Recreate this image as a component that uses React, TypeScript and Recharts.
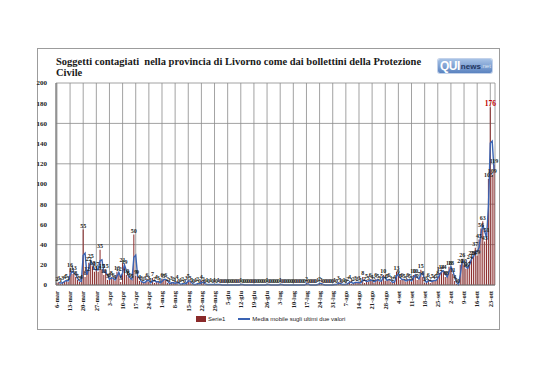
import { ComposedChart, Bar, Line, XAxis, YAxis, CartesianGrid, LabelList } from 'recharts';

// Soggetti contagiati, provincia di Livorno (bollettini Protezione Civile)

const SERIF = '"Liberation Serif", "Times New Roman", serif';
const SANS = '"Liberation Sans", Arial, sans-serif';

const TITLE_1 = 'Soggetti contagiati  nella provincia di Livorno come dai bollettini della Protezione';
const TITLE_2 = 'Civile';

// etichette settimanali dell'asse (un giorno ogni 7)
const WEEK_LABELS = [
  '6-mar', '13-mar', '20-mar', '27-mar', '3-apr', '10-apr', '17-apr', '24-apr',
  '1-mag', '8-mag', '15-mag', '22-mag', '29-mag', '5-giu', '12-giu', '19-giu',
  '26-giu', '3-lug', '10-lug', '17-lug', '24-lug', '31-lug', '7-ago', '14-ago',
  '21-ago', '28-ago', '4-set', '11-set', '18-set', '25-set', '2-ott', '9-ott',
  '16-ott', '23-ott',
];

// nuovi casi giornalieri, una riga per settimana (parte dalla data in WEEK_LABELS)
const CASES_BY_WEEK = [
  [2, 3, 1, 3, 4, 5, 3],
  [16, 11, 13, 8, 5, 3, 4],
  [55, 8, 12, 22, 25, 18, 13],
  [17, 13, 35, 15, 10, 15, 5],
  [6, 8, 6, 4, 13, 12, 3],
  [21, 19, 10, 8, 6, 5, 50],
  [9, 9, 4, 3, 2, 3, 6],
  [3, 1, 7, 2, 4, 3, 1],
  [6, 5, 6, 2, 1, 3, 2],
  [1, 4, 0, 1, 2, 0, 3],
  [5, 3, 1, 0, 1, 2, 0],
  [4, 2, 0, 1, 0, 1, 0],
  [1, 0, 1, 0, 0, 0, 0],
  [0, 0, 0, 0, 0, 0, 0],
  [1, 0, 0, 0, 0, 0, 0],
  [0, 0, 0, 0, 0, 0, 0],
  [1, 0, 0, 0, 0, 0, 0],
  [1, 0, 0, 0, 0, 0, 0],
  [0, 0, 0, 0, 0, 0, 0],
  [2, 0, 0, 0, 0, 0, 1],
  [2, 1, 0, 0, 0, 0, 0],
  [0, 1, 0, 3, 1, 0, 1],
  [0, 2, 4, 1, 2, 3, 2],
  [3, 1, 8, 2, 5, 3, 6],
  [4, 2, 6, 5, 3, 5, 10],
  [4, 5, 6, 3, 2, 4, 13],
  [9, 5, 6, 5, 3, 6, 5],
  [3, 10, 10, 5, 7, 15, 8],
  [2, 3, 6, 2, 5, 4, 5],
  [8, 12, 14, 14, 8, 8, 18],
  [18, 11, 4, 1, 0, 20, 26],
  [20, 16, 17, 24, 28, 28, 37],
  [29, 45, 56, 63, 43, 51, 105],
  [176, 109, 119],
];

const Y_TICKS = [0, 20, 40, 60, 80, 100, 120, 140, 160, 180, 200];

const SERIES_BAR = 'Serie1';
const SERIES_LINE = 'Media mobile sugli ultimi due valori';

const BAR_COLOR = '#8a2a2a';
const LINE_COLOR = '#3a63b3';
const GRID_COLOR = '#8a8a8a';

type Row = { day: string; casi: number; media: number | null };

const data: Row[] = CASES_BY_WEEK.flatMap((week, w) =>
  week.map((v, i) => ({
    day: i === 0 ? WEEK_LABELS[w] : `${WEEK_LABELS[w]}+${i}`,
    casi: v,
    media: null,
  })),
);
// media mobile su 2 periodi, come la linea di tendenza di Excel
data.forEach((d, i) => {
  d.media = i === 0 ? null : (data[i - 1].casi + d.casi) / 2;
});

const PEAK = Math.max(...data.map((d) => d.casi));

function DateTick({ x, y, payload }: any) {
  return (
    <g transform={`translate(${x},${y})`}>
      <text
        transform="rotate(-90)"
        x={-1}
        dy="0.35em"
        textAnchor="end"
        fontSize={6.5}
        fontWeight="bold"
        fontFamily={SERIF}
        fill="#222"
      >
        {payload.value}
      </text>
    </g>
  );
}

function ValueLabel(props: any) {
  const { x, y, width, value } = props;
  const peak = value === PEAK;
  return (
    <text
      x={Number(x) + Number(width) / 2}
      y={Number(y) - 1.5}
      textAnchor="middle"
      fontSize={peak ? 7.5 : 6}
      fontWeight="bold"
      fontFamily={SERIF}
      fill={peak ? '#c00000' : '#1e1e1e'}
    >
      {value}
    </text>
  );
}

function Logo() {
  return (
    <div
      style={{
        position: 'absolute',
        left: 438,
        top: 59,
        width: 54,
        height: 14,
        borderRadius: 2,
        background: 'linear-gradient(#a7c2e6, #5b83c0)',
        boxShadow: '0 0 0 1px #c3d2ea',
        fontFamily: SANS,
        display: 'flex',
        alignItems: 'center',
        paddingLeft: 2,
        boxSizing: 'border-box',
      }}
    >
      <span style={{ color: '#fff', fontWeight: 'bold', fontSize: 12, letterSpacing: -0.5 }}>QUI</span>
      <span style={{ color: '#1f3560', fontWeight: 'bold', fontSize: 8, marginLeft: 1 }}>news</span>
      <span style={{ color: '#dbe6f5', fontSize: 6 }}>.net</span>
    </div>
  );
}

function LegendBox() {
  return (
    <div
      style={{
        position: 'absolute',
        left: 196,
        top: 316,
        display: 'flex',
        alignItems: 'center',
        fontFamily: SANS,
        fontSize: 6,
        color: '#222',
      }}
    >
      <span style={{ width: 10, height: 6, background: BAR_COLOR, display: 'inline-block' }} />
      <span style={{ marginLeft: 2 }}>{SERIES_BAR}</span>
      <span
        style={{ width: 12, height: 1.5, background: LINE_COLOR, display: 'inline-block', marginLeft: 13 }}
      />
      <span style={{ marginLeft: 2 }}>{SERIES_LINE}</span>
    </div>
  );
}

export default function App() {
  return (
    <div style={{ position: 'absolute', left: 0, top: 0, width: 538, height: 380, background: '#fff' }}>
      <div
        style={{
          position: 'absolute',
          left: 37,
          top: 48,
          width: 463,
          height: 282,
          border: '1px solid #9c9c9c',
          boxSizing: 'border-box',
        }}
      />
      <div
        style={{
          position: 'absolute',
          left: 56,
          top: 56,
          fontFamily: SERIF,
          fontWeight: 'bold',
          fontSize: 10.5,
          lineHeight: '11px',
          color: '#1a1a1a',
          whiteSpace: 'pre',
        }}
      >
        {TITLE_1}
        {'\n'}
        {TITLE_2}
      </div>
      <Logo />
      <div style={{ position: 'absolute', left: 0, top: 0 }}>
        <ComposedChart
          width={538}
          height={380}
          data={data}
          margin={{ top: 83, right: 43, bottom: 65, left: 30 }}
          barCategoryGap="22%"
        >
          <CartesianGrid stroke={GRID_COLOR} strokeWidth={0.8} />
          <XAxis
            dataKey="day"
            interval={6}
            height={30}
            tick={<DateTick />}
            tickLine={false}
            tickSize={3}
            axisLine={{ stroke: '#777' }}
          />
          <YAxis
            width={26}
            domain={[0, 200]}
            ticks={Y_TICKS}
            tickLine={false}
            tickMargin={3}
            axisLine={{ stroke: '#777' }}
            tick={{ fontSize: 7, fontWeight: 'bold', fontFamily: SERIF, fill: '#222' }}
          />
          <Bar
            dataKey="casi"
            name={SERIES_BAR}
            fill={BAR_COLOR}
            minPointSize={0.01}
            isAnimationActive={false}
          >
            <LabelList dataKey="casi" position="top" content={<ValueLabel />} />
          </Bar>
          <Line
            dataKey="media"
            name={SERIES_LINE}
            type="linear"
            stroke={LINE_COLOR}
            strokeWidth={1.4}
            dot={false}
            isAnimationActive={false}
          />
        </ComposedChart>
      </div>
      <LegendBox />
    </div>
  );
}
